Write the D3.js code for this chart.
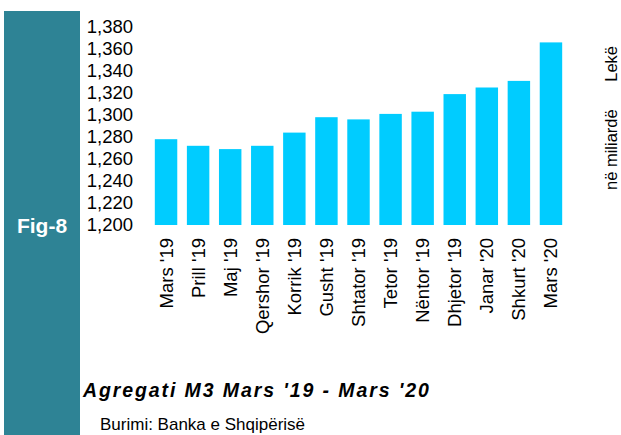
<!DOCTYPE html>
<html><head><meta charset="utf-8">
<script src="https://cdn.jsdelivr.net/npm/d3@7"></script>
<style>html,body{margin:0;padding:0;background:#fff;}svg{display:block;}</style>
</head><body>
<script>
const categories = ["Mars '19","Prill '19","Maj '19","Qershor '19","Korrik '19","Gusht '19","Shtator '19","Tetor '19","Nëntor '19","Dhjetor '19","Janar '20","Shkurt '20","Mars '20"];
const values = [1278,1272,1269,1272,1284,1298,1296,1301,1303,1319,1325,1331,1366];
const yTicks = [1200,1220,1240,1260,1280,1300,1320,1340,1360,1380];
const titleText = "Agregati M3 Mars '19 - Mars '20";
const sourceText = "Burimi: Banka e Shqipërisë";
const figText = "Fig-8";
const unitText1 = "në miliardë";
const unitText2 = "Lekë";

const W = 621, H = 435;
const svg = d3.select("body").append("svg").attr("width", W).attr("height", H)
  .style("font-family", "'Liberation Sans', Arial, sans-serif");

svg.append("rect").attr("x", 4).attr("y", 11).attr("width", 76).attr("height", H - 11).attr("fill", "#2E8395");
svg.append("text").attr("x", 42).attr("y", 233).attr("text-anchor", "middle")
  .attr("fill", "#fff").attr("font-weight", "bold").attr("font-size", 21).text(figText);

const y = d3.scaleLinear().domain([1200, 1380]).range([225, 27]);
const x = d3.scaleBand().domain(categories).range([150, 567]).paddingInner(0.3).paddingOuter(0.15);

const yAxis = d3.axisLeft(y).tickValues(yTicks).tickFormat(d3.format(",")).tickSize(0).tickPadding(0);
const gy = svg.append("g").attr("transform", "translate(133,0)").call(yAxis);
gy.select(".domain").remove();
gy.selectAll("text").attr("font-size", 18.5).attr("fill", "#000")
  .style("font-family", "'Liberation Sans', Arial, sans-serif");

svg.append("g").selectAll("rect").data(values).join("rect")
  .attr("x", (d, i) => x(categories[i]))
  .attr("y", d => y(d))
  .attr("width", x.bandwidth())
  .attr("height", d => y(1200) - y(d))
  .attr("fill", "#00CCFF");

const xAxis = d3.axisBottom(x).tickSize(0).tickPadding(0);
const gx = svg.append("g").attr("transform", "translate(0,238)").call(xAxis);
gx.select(".domain").remove();
gx.selectAll("text")
  .attr("font-size", 18.5).attr("fill", "#000")
  .style("font-family", "'Liberation Sans', Arial, sans-serif")
  .attr("text-anchor", "end")
  .attr("transform", "rotate(-90)")
  .attr("x", 0).attr("y", 0).attr("dy", "0.35em");

svg.append("text").attr("transform", "translate(611,190) rotate(-90)")
  .attr("dy", "0.35em").attr("font-size", 16.5).attr("fill", "#000").text(unitText1);
svg.append("text").attr("transform", "translate(611,46) rotate(-90)")
  .attr("dy", "0.35em").attr("text-anchor", "end").attr("font-size", 16.5).attr("fill", "#000").text(unitText2);

svg.append("text").attr("x", 83).attr("y", 397)
  .attr("font-size", 19.5).attr("font-weight", "bold").attr("font-style", "italic")
  .attr("letter-spacing", 1.9).attr("fill", "#000").text(titleText);
svg.append("text").attr("x", 100).attr("y", 430)
  .attr("font-size", 17).attr("fill", "#000").text(sourceText);
</script>
</body></html>
